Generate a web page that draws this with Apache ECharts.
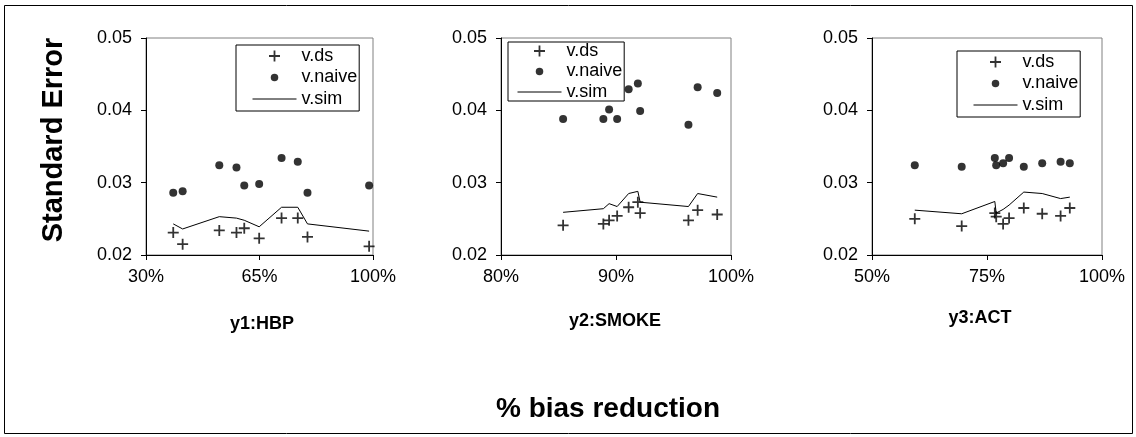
<!DOCTYPE html>
<html><head><meta charset="utf-8">
<script src="https://cdn.jsdelivr.net/npm/echarts@6/dist/echarts.min.js"></script>
<style>html,body{margin:0;padding:0;background:#fff}#c{width:1136px;height:437px}</style>
</head><body><div id="c"></div>
<script>
// ---- data ----
const panelNames = ['y1:HBP', 'y2:SMOKE', 'y3:ACT'];
const seriesNames = ['v.ds', 'v.naive', 'v.sim'];
const yTicks = [0.02, 0.03, 0.04, 0.05];

const xTicks1 = [30, 65, 100];
const x1 = [38.4, 41.3, 52.6, 57.9, 60.3, 64.9, 71.8, 76.8, 79.8, 98.8];
const ds1 = [0.0231, 0.0215, 0.0234, 0.0231, 0.0237, 0.0223, 0.0251, 0.0251, 0.0225, 0.0212];
const naive1 = [0.0286, 0.0288, 0.0324, 0.0321, 0.0296, 0.0298, 0.0334, 0.0329, 0.0286, 0.0296];
const sim1 = [0.0243, 0.0236, 0.0253, 0.0251, 0.0248, 0.0239, 0.0266, 0.0266, 0.0243, 0.0233];

const xTicks2 = [80, 90, 100];
const x2 = [85.4, 88.9, 89.4, 90.1, 91.1, 91.9, 92.1, 96.3, 97.1, 98.8];
const ds2 = [0.0241, 0.0243, 0.0248, 0.0254, 0.0266, 0.0273, 0.0258, 0.0248, 0.0262, 0.0256];
const naive2 = [0.0388, 0.0388, 0.0401, 0.0388, 0.0429, 0.0437, 0.0399, 0.0380, 0.0432, 0.0424];
const sim2 = [0.0259, 0.0264, 0.0271, 0.0267, 0.0285, 0.0288, 0.0273, 0.0267, 0.0285, 0.0280];

const xTicks3 = [50, 75, 100];
const x3 = [59.3, 69.5, 76.7, 77.0, 78.5, 79.8, 83.0, 87.0, 91.0, 93.0];
const ds3 = [0.0250, 0.0240, 0.0258, 0.0253, 0.0243, 0.0251, 0.0265, 0.0257, 0.0254, 0.0265];
const naive3 = [0.0324, 0.0322, 0.0334, 0.0324, 0.0327, 0.0334, 0.0322, 0.0327, 0.0329, 0.0327];
const sim3 = [0.0262, 0.0257, 0.0274, 0.0258, 0.0263, 0.0269, 0.0287, 0.0285, 0.0278, 0.0280];

const yAxisTitle = 'Standard Error';
const xAxisTitle = '% bias reduction';

// ---- layout / style ----
const FONT = '"Liberation Sans", Arial, sans-serif';
const PLUS = 'path://M5 0L5 10M0 5L10 5';
const DOT_ICON = 'path://M0 0M11 11M1.75 5.5A3.75 3.75 0 1 1 9.25 5.5A3.75 3.75 0 1 1 1.75 5.5Z';
const LINE_ICON = 'path://M0 0M0 5.5L44 5.5M44 11';

const panels = [
  {xs: x1, ds: ds1, naive: naive1, sim: sim1, ticks: xTicks1, grid: {left: 146, width: 227}, legend: {left: 236, top: 45, padding: [2, 2, 3, 14], itemGap: 3.5}, labelX: 262, labelY: 324},
  {xs: x2, ds: ds2, naive: naive2, sim: sim2, ticks: xTicks2, grid: {left: 501, width: 230}, legend: {left: 508, top: 42, padding: [0, 2, 0, 7], itemGap: 2.5}, labelX: 615, labelY: 321},
  {xs: x3, ds: ds3, naive: naive3, sim: sim3, ticks: xTicks3, grid: {left: 872, width: 230}, legend: {left: 957, top: 51, padding: [2, 2, 3, 14], itemGap: 3.5}, labelX: 980, labelY: 318}
];

const grids = [], xAxes = [], yAxes = [], series = [], legends = [], graphics = [];
panels.forEach((p, i) => {
  grids.push({left: p.grid.left, width: p.grid.width, top: 38, height: 217, show: true,
    borderColor: '#808080', borderWidth: 1, backgroundColor: '#fff', containLabel: false, outerBoundsMode: 'none'});
  xAxes.push({gridIndex: i, type: 'value', min: p.ticks[0], max: p.ticks[p.ticks.length - 1],
    axisLine: {show: true, onZero: false, lineStyle: {color: '#000', width: 1}},
    axisTick: {show: true, customValues: p.ticks, length: 5, lineStyle: {color: '#000'}},
    axisLabel: {customValues: p.ticks, formatter: v => v + '%', color: '#000', fontSize: 18, fontFamily: FONT, margin: 13},
    splitLine: {show: false}});
  yAxes.push({gridIndex: i, type: 'value', min: yTicks[0], max: yTicks[yTicks.length - 1],
    axisLine: {show: true, onZero: false, lineStyle: {color: '#000', width: 1}},
    axisTick: {show: true, customValues: yTicks, length: 5, lineStyle: {color: '#000'}},
    axisLabel: {customValues: yTicks, formatter: v => v.toFixed(2), color: '#000', fontSize: 18, fontFamily: FONT, margin: 14},
    splitLine: {show: false}});
  series.push({type: 'scatter', name: seriesNames[0], xAxisIndex: i, yAxisIndex: i,
    data: p.xs.map((x, k) => [x, p.ds[k]]), symbol: PLUS, symbolSize: 11,
    itemStyle: {color: '#000', borderColor: '#000', borderWidth: 1.8}, silent: true, z: 4});
  series.push({type: 'scatter', name: seriesNames[1], xAxisIndex: i, yAxisIndex: i,
    data: p.xs.map((x, k) => [x, p.naive[k]]), symbol: 'circle', symbolSize: 8,
    itemStyle: {color: '#000'}, silent: true, z: 4});
  series.push({type: 'line', name: seriesNames[2], xAxisIndex: i, yAxisIndex: i,
    data: p.xs.map((x, k) => [x, p.sim[k]]), symbol: 'none', showSymbol: false,
    lineStyle: {color: '#000', width: 1}, itemStyle: {color: '#000'}, silent: true, z: 3});
  legends.push({orient: 'vertical', left: p.legend.left, top: p.legend.top, padding: p.legend.padding,
    itemGap: p.legend.itemGap, itemWidth: 44, itemHeight: 11, selectedMode: false,
    borderColor: '#000', borderWidth: 1, backgroundColor: '#fff',
    textStyle: {color: '#000', fontSize: 18, fontFamily: FONT},
    data: [
      {name: seriesNames[0], icon: PLUS, itemStyle: {color: '#000', borderColor: '#000', borderWidth: 1.8}},
      {name: seriesNames[1], icon: DOT_ICON, itemStyle: {color: '#000', borderColor: '#000', borderWidth: 0}},
      {name: seriesNames[2], icon: LINE_ICON, itemStyle: {color: 'none', borderColor: '#000', borderWidth: 1}}
    ]});
  graphics.push({type: 'text', x: p.labelX, y: p.labelY, silent: true,
    style: {text: panelNames[i], font: 'bold 18px ' + FONT, fill: '#000', textAlign: 'center', textVerticalAlign: 'middle'}});
});

graphics.push({type: 'rect', silent: true, z: -1, shape: {x: 4.5, y: 5.5, width: 1128, height: 428},
  style: {fill: 'none', stroke: '#000', lineWidth: 1}});
graphics.push({type: 'text', x: 54, y: 140, rotation: Math.PI / 2, silent: true,
  style: {text: yAxisTitle, font: 'bold 29px ' + FONT, fill: '#000', textAlign: 'center', textVerticalAlign: 'middle'}});
graphics.push({type: 'text', x: 608, y: 409, silent: true,
  style: {text: xAxisTitle, font: 'bold 28px ' + FONT, fill: '#000', textAlign: 'center', textVerticalAlign: 'middle'}});

const chart = echarts.init(document.getElementById('c'), null, {renderer: 'canvas'});
chart.setOption({
  animation: false,
  backgroundColor: '#fff',
  grid: grids, xAxis: xAxes, yAxis: yAxes, series: series, legend: legends,
  graphic: graphics
});
</script></body></html>
